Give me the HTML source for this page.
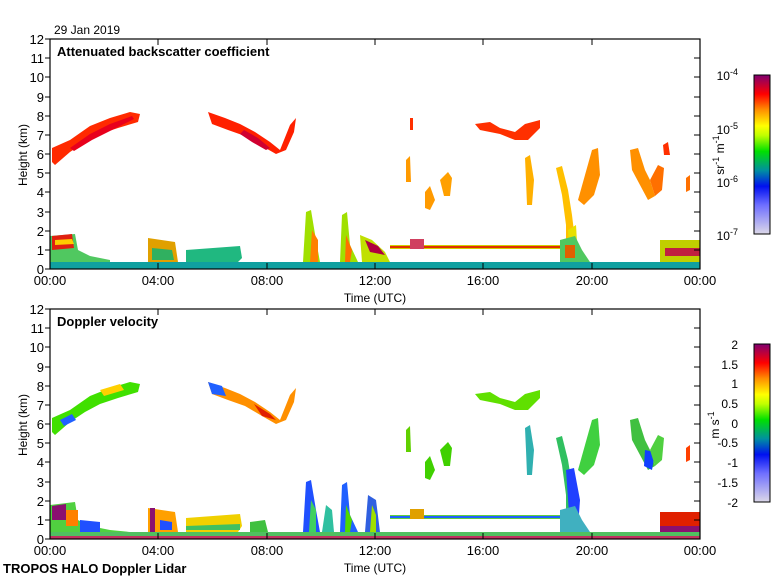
<!DOCTYPE html>
<html><head><meta charset="utf-8"><style>
body{margin:0;background:#fff;}
svg{display:block;font-family:"Liberation Sans",sans-serif;}
</style></head><body>
<svg width="780" height="580" viewBox="0 0 780 580" xmlns="http://www.w3.org/2000/svg">
<defs>
<linearGradient id="cb" x1="0" y1="1" x2="0" y2="0">
<stop offset="0" stop-color="#dcd8e8"/>
<stop offset="0.18" stop-color="#7070ff"/>
<stop offset="0.3" stop-color="#0010f0"/>
<stop offset="0.4" stop-color="#0090a0"/>
<stop offset="0.52" stop-color="#00e000"/>
<stop offset="0.62" stop-color="#c0ff00"/>
<stop offset="0.68" stop-color="#ffff00"/>
<stop offset="0.78" stop-color="#ff9000"/>
<stop offset="0.88" stop-color="#ff0000"/>
<stop offset="1" stop-color="#800070"/>
</linearGradient>
</defs>

<!-- ============ TOP PANEL ============ -->
<text x="54" y="34" font-size="12">29 Jan 2019</text>
<g>
<polygon points="52,148 70,140 90,126 110,118 130,112 140,114 138,122 118,128 100,134 85,142 70,152 55,165 52,162" fill="#ff2a00"/>
<polygon points="70,148 90,134 110,124 132,116 134,119 112,130 92,140 74,151" fill="#e8001c"/>
<polygon points="208,112 225,118 240,124 255,132 270,142 280,150 290,125 296,118 294,132 286,150 276,154 262,146 245,136 228,130 212,124" fill="#ff2000"/>
<polygon points="244,130 258,138 270,148 266,150 252,142 240,134" fill="#d00030"/>
<polygon points="475,124 490,122 500,128 515,132 525,124 540,120 540,128 528,140 515,140 500,134 480,130" fill="#ff3000"/>
<rect x="410" y="118" width="3" height="12" fill="#ff3000"/>
<!-- fall streaks -->
<polygon points="406,160 410,156 411,182 406,182" fill="#ff9a00"/>
<polygon points="425,192 430,186 435,200 430,210 425,208" fill="#ff9a00"/>
<polygon points="440,180 448,172 452,178 450,196 444,196" fill="#ffa000"/>
<polygon points="525,158 530,155 534,180 532,205 527,205 526,180" fill="#ffb000"/>
<polygon points="556,168 562,166 568,190 572,215 575,240 572,258 566,255 566,225 562,195" fill="#ffc000"/>
<polygon points="568,230 576,225 578,258 570,262" fill="#e8e000"/>
<polygon points="578,200 585,175 592,150 598,148 600,175 594,195 584,205" fill="#ff9000"/>
<polygon points="630,150 638,148 645,170 650,180 655,196 648,200 640,185 632,170" fill="#ff9000"/>
<polygon points="650,180 658,165 664,168 662,190 655,196" fill="#ff7000"/>
<polygon points="663,145 668,142 670,155 664,155" fill="#ff3000"/>
<polygon points="686,178 690,175 690,190 686,192" fill="#ff7000"/>
<!-- vertical streaks -->
<polygon points="303,262 306,212 311,210 316,240 320,262" fill="#a0e000"/>
<polygon points="310,262 312,230 318,240 318,262" fill="#ff8000"/>
<polygon points="340,262 342,215 347,212 350,245 358,262" fill="#a0e000"/>
<polygon points="345,262 346,235 352,250 350,262" fill="#ff7000"/>
<polygon points="360,235 372,240 385,252 390,262 362,262" fill="#c0e000"/>
<polygon points="365,240 378,246 385,255 370,252" fill="#b00040"/>
<!-- thin ~1km layer -->
<rect x="390" y="245" width="170" height="4" fill="#d0d000"/>
<rect x="390" y="246" width="170" height="2" fill="#e03000"/>
<rect x="410" y="239" width="14" height="10" fill="#d04060"/>
<!-- boundary layer -->
<rect x="50" y="262" width="650" height="7" fill="#10a0a0"/>
<polygon points="50,236 75,234 78,250 90,256 110,260 110,262 50,262" fill="#50c860"/>
<polygon points="52,236 72,234 74,248 52,250" fill="#e02010"/>
<polygon points="55,240 72,239 74,244 55,245" fill="#ffcc00"/>
<polygon points="148,238 175,242 178,262 148,262" fill="#e0a000"/>
<polygon points="152,248 172,250 174,260 152,260" fill="#30b060"/>
<polygon points="186,250 240,246 242,258 238,262 186,262" fill="#20b880"/>
<polygon points="560,240 575,236 582,250 590,262 560,262" fill="#50c860"/>
<polygon points="565,245 575,245 575,258 565,258" fill="#e06000"/>
<polygon points="660,240 700,240 700,262 660,262" fill="#c0d000"/>
<polygon points="665,248 700,248 700,256 665,256" fill="#c02040"/>
</g>
<rect x="50" y="39" width="650" height="230" fill="none" stroke="#000" stroke-width="1.2"/>
<text x="57" y="56" font-size="13" font-weight="bold">Attenuated backscatter coefficient</text>
<g stroke="#000" stroke-width="1">
<path d="M50 39h-5M50 58h-5M50 77h-5M50 97h-5M50 116h-5M50 135h-5M50 154h-5M50 173h-5M50 192h-5M50 212h-5M50 231h-5M50 250h-5M50 269h-5"/>
<path d="M700 58h-6M700 77h-6M700 97h-6M700 116h-6M700 135h-6M700 154h-6M700 173h-6M700 192h-6M700 212h-6M700 231h-6M700 250h-6"/>
<path d="M158 269v-6M267 269v-6M375 269v-6M483 269v-6M592 269v-6M158 39v6M267 39v6M375 39v6M483 39v6M592 39v6"/>
</g>
<g font-size="13" text-anchor="end">
<text x="44" y="44">12</text><text x="44" y="63">11</text><text x="44" y="82">10</text><text x="44" y="102">9</text><text x="44" y="121">8</text><text x="44" y="140">7</text><text x="44" y="159">6</text><text x="44" y="178">5</text><text x="44" y="197">4</text><text x="44" y="217">3</text><text x="44" y="236">2</text><text x="44" y="255">1</text><text x="44" y="274">0</text>
</g>
<g font-size="13" text-anchor="middle">
<text x="50" y="285">00:00</text><text x="158" y="285">04:00</text><text x="267" y="285">08:00</text><text x="375" y="285">12:00</text><text x="483" y="285">16:00</text><text x="592" y="285">20:00</text><text x="700" y="285">00:00</text>
<text x="375" y="302" font-size="12">Time (UTC)</text>
</g>
<text transform="translate(27,155) rotate(-90)" font-size="12" text-anchor="middle">Height (km)</text>
<rect x="754" y="75" width="16" height="159" fill="url(#cb)" stroke="#000"/>
<g font-size="12" text-anchor="end">
<text x="738" y="80">10<tspan dy="-5" font-size="9">-4</tspan></text>
<text x="738" y="134">10<tspan dy="-5" font-size="9">-5</tspan></text>
<text x="738" y="187">10<tspan dy="-5" font-size="9">-6</tspan></text>
<text x="738" y="240">10<tspan dy="-5" font-size="9">-7</tspan></text>
</g>
<text transform="translate(724,155) rotate(-90)" font-size="12" text-anchor="middle">sr<tspan dy="-5" font-size="9">-1</tspan><tspan dy="5"> m</tspan><tspan dy="-5" font-size="9">-1</tspan></text>

<!-- ============ BOTTOM PANEL ============ -->
<g>
<polygon points="52,418 70,410 90,396 110,388 130,382 140,384 138,392 118,398 100,404 85,412 70,422 55,435 52,432" fill="#40e000"/>
<polygon points="60,420 72,414 76,420 64,426" fill="#2060ff"/>
<polygon points="100,390 120,384 124,390 104,396" fill="#ffd000"/>
<polygon points="208,382 225,388 240,394 255,402 270,412 280,420 290,395 296,388 294,402 286,420 276,424 262,416 245,406 228,400 212,394" fill="#ff9000"/>
<polygon points="208,382 222,386 226,396 212,394" fill="#2060ff"/>
<polygon points="254,404 270,414 276,420 262,416" fill="#e02000"/>
<polygon points="475,394 490,392 500,398 515,402 525,394 540,390 540,398 528,410 515,410 500,404 480,400" fill="#60e000"/>
<polygon points="406,430 410,426 411,452 406,452" fill="#60d000"/>
<polygon points="425,462 430,456 435,470 430,480 425,478" fill="#40d000"/>
<polygon points="440,450 448,442 452,448 450,466 444,466" fill="#40d000"/>
<polygon points="525,428 530,425 534,450 532,475 527,475 526,450" fill="#30b0b0"/>
<polygon points="556,438 562,436 568,460 572,485 575,510 572,528 566,525 566,495 562,465" fill="#30c060"/>
<polygon points="566,470 574,468 580,500 578,528 570,528" fill="#2040ff"/>
<polygon points="578,470 585,445 592,420 598,418 600,445 594,465 584,475" fill="#40d040"/>
<polygon points="630,420 638,418 645,440 650,450 655,466 648,470 640,455 632,440" fill="#40c040"/>
<polygon points="645,450 655,452 652,470 644,466" fill="#1040ff"/>
<polygon points="650,450 658,435 664,438 662,460 655,466" fill="#50d040"/>
<polygon points="686,448 690,445 690,460 686,462" fill="#ff4000"/>
<!-- streaks -->
<polygon points="303,532 306,482 311,480 316,510 320,532" fill="#2050ff"/>
<polygon points="309,532 311,500 316,510 316,532" fill="#40d060"/>
<polygon points="340,532 342,485 347,482 350,515 358,532" fill="#2060ff"/>
<polygon points="345,532 346,505 352,520 350,532" fill="#50d800"/>
<polygon points="322,532 326,505 332,510 334,532" fill="#30c0a0"/>
<polygon points="365,532 368,495 376,500 380,532" fill="#3060e0"/>
<polygon points="370,532 372,505 376,515 376,532" fill="#a0e000"/>
<!-- thin layer -->
<rect x="390" y="515" width="170" height="4" fill="#60d040"/>
<rect x="390" y="516" width="170" height="2" fill="#2060ff"/>
<rect x="410" y="509" width="14" height="10" fill="#e0a000"/>
<!-- boundary layer -->
<polygon points="50,505 75,502 78,520 90,526 110,530 130,532 50,532" fill="#50d040"/>
<polygon points="52,506 66,504 66,520 52,520" fill="#8a1070"/>
<polygon points="66,510 78,510 78,526 66,526" fill="#ff8000"/>
<polygon points="80,520 100,522 100,532 80,532" fill="#2050ff"/>
<polygon points="148,508 175,512 178,532 148,532" fill="#ffa000"/>
<polygon points="150,508 155,508 155,532 150,532" fill="#8a1070"/>
<polygon points="160,520 172,522 172,530 160,530" fill="#2050ff"/>
<polygon points="186,518 240,514 242,526 238,532 186,532" fill="#f0d000"/>
<polygon points="186,526 240,524 240,530 186,530" fill="#40c060"/>
<polygon points="250,522 265,520 268,532 250,532" fill="#40c040"/>
<polygon points="560,510 575,506 582,520 590,532 560,532" fill="#40b0c0"/>
<polygon points="660,512 700,512 700,532 660,532" fill="#e02000"/>
<polygon points="660,526 700,526 700,532 660,532" fill="#8a1070"/>
<rect x="50" y="532" width="650" height="7" fill="#50c060"/>
<rect x="50" y="536" width="650" height="3" fill="#c03060"/>
</g>
<rect x="50" y="309" width="650" height="230" fill="none" stroke="#000" stroke-width="1.2"/>
<text x="57" y="326" font-size="13" font-weight="bold">Doppler velocity</text>
<g stroke="#000" stroke-width="1">
<path d="M50 309h-5M50 328h-5M50 347h-5M50 367h-5M50 386h-5M50 405h-5M50 424h-5M50 443h-5M50 462h-5M50 482h-5M50 501h-5M50 520h-5M50 539h-5"/>
<path d="M700 328h-6M700 347h-6M700 367h-6M700 386h-6M700 405h-6M700 424h-6M700 443h-6M700 462h-6M700 482h-6M700 501h-6M700 520h-6"/>
<path d="M158 539v-6M267 539v-6M375 539v-6M483 539v-6M592 539v-6M158 309v6M267 309v6M375 309v6M483 309v6M592 309v6"/>
</g>
<g font-size="13" text-anchor="end">
<text x="44" y="314">12</text><text x="44" y="333">11</text><text x="44" y="352">10</text><text x="44" y="372">9</text><text x="44" y="391">8</text><text x="44" y="410">7</text><text x="44" y="429">6</text><text x="44" y="448">5</text><text x="44" y="467">4</text><text x="44" y="487">3</text><text x="44" y="506">2</text><text x="44" y="525">1</text><text x="44" y="544">0</text>
</g>
<g font-size="13" text-anchor="middle">
<text x="50" y="555">00:00</text><text x="158" y="555">04:00</text><text x="267" y="555">08:00</text><text x="375" y="555">12:00</text><text x="483" y="555">16:00</text><text x="592" y="555">20:00</text><text x="700" y="555">00:00</text>
<text x="375" y="572" font-size="12">Time (UTC)</text>
</g>
<text transform="translate(27,425) rotate(-90)" font-size="12" text-anchor="middle">Height (km)</text>
<text x="3" y="573" font-size="13" font-weight="bold">TROPOS HALO Doppler Lidar</text>
<rect x="754" y="344" width="16" height="158" fill="url(#cb)" stroke="#000"/>
<g font-size="12" text-anchor="end">
<text x="738" y="349">2</text><text x="738" y="369">1.5</text><text x="738" y="388">1</text><text x="738" y="408">0.5</text><text x="738" y="428">0</text><text x="738" y="447">-0.5</text><text x="738" y="467">-1</text><text x="738" y="487">-1.5</text><text x="738" y="507">-2</text>
</g>
<text transform="translate(719,425) rotate(-90)" font-size="12" text-anchor="middle">m s<tspan dy="-5" font-size="9">-1</tspan></text>
</svg>
</body></html>
